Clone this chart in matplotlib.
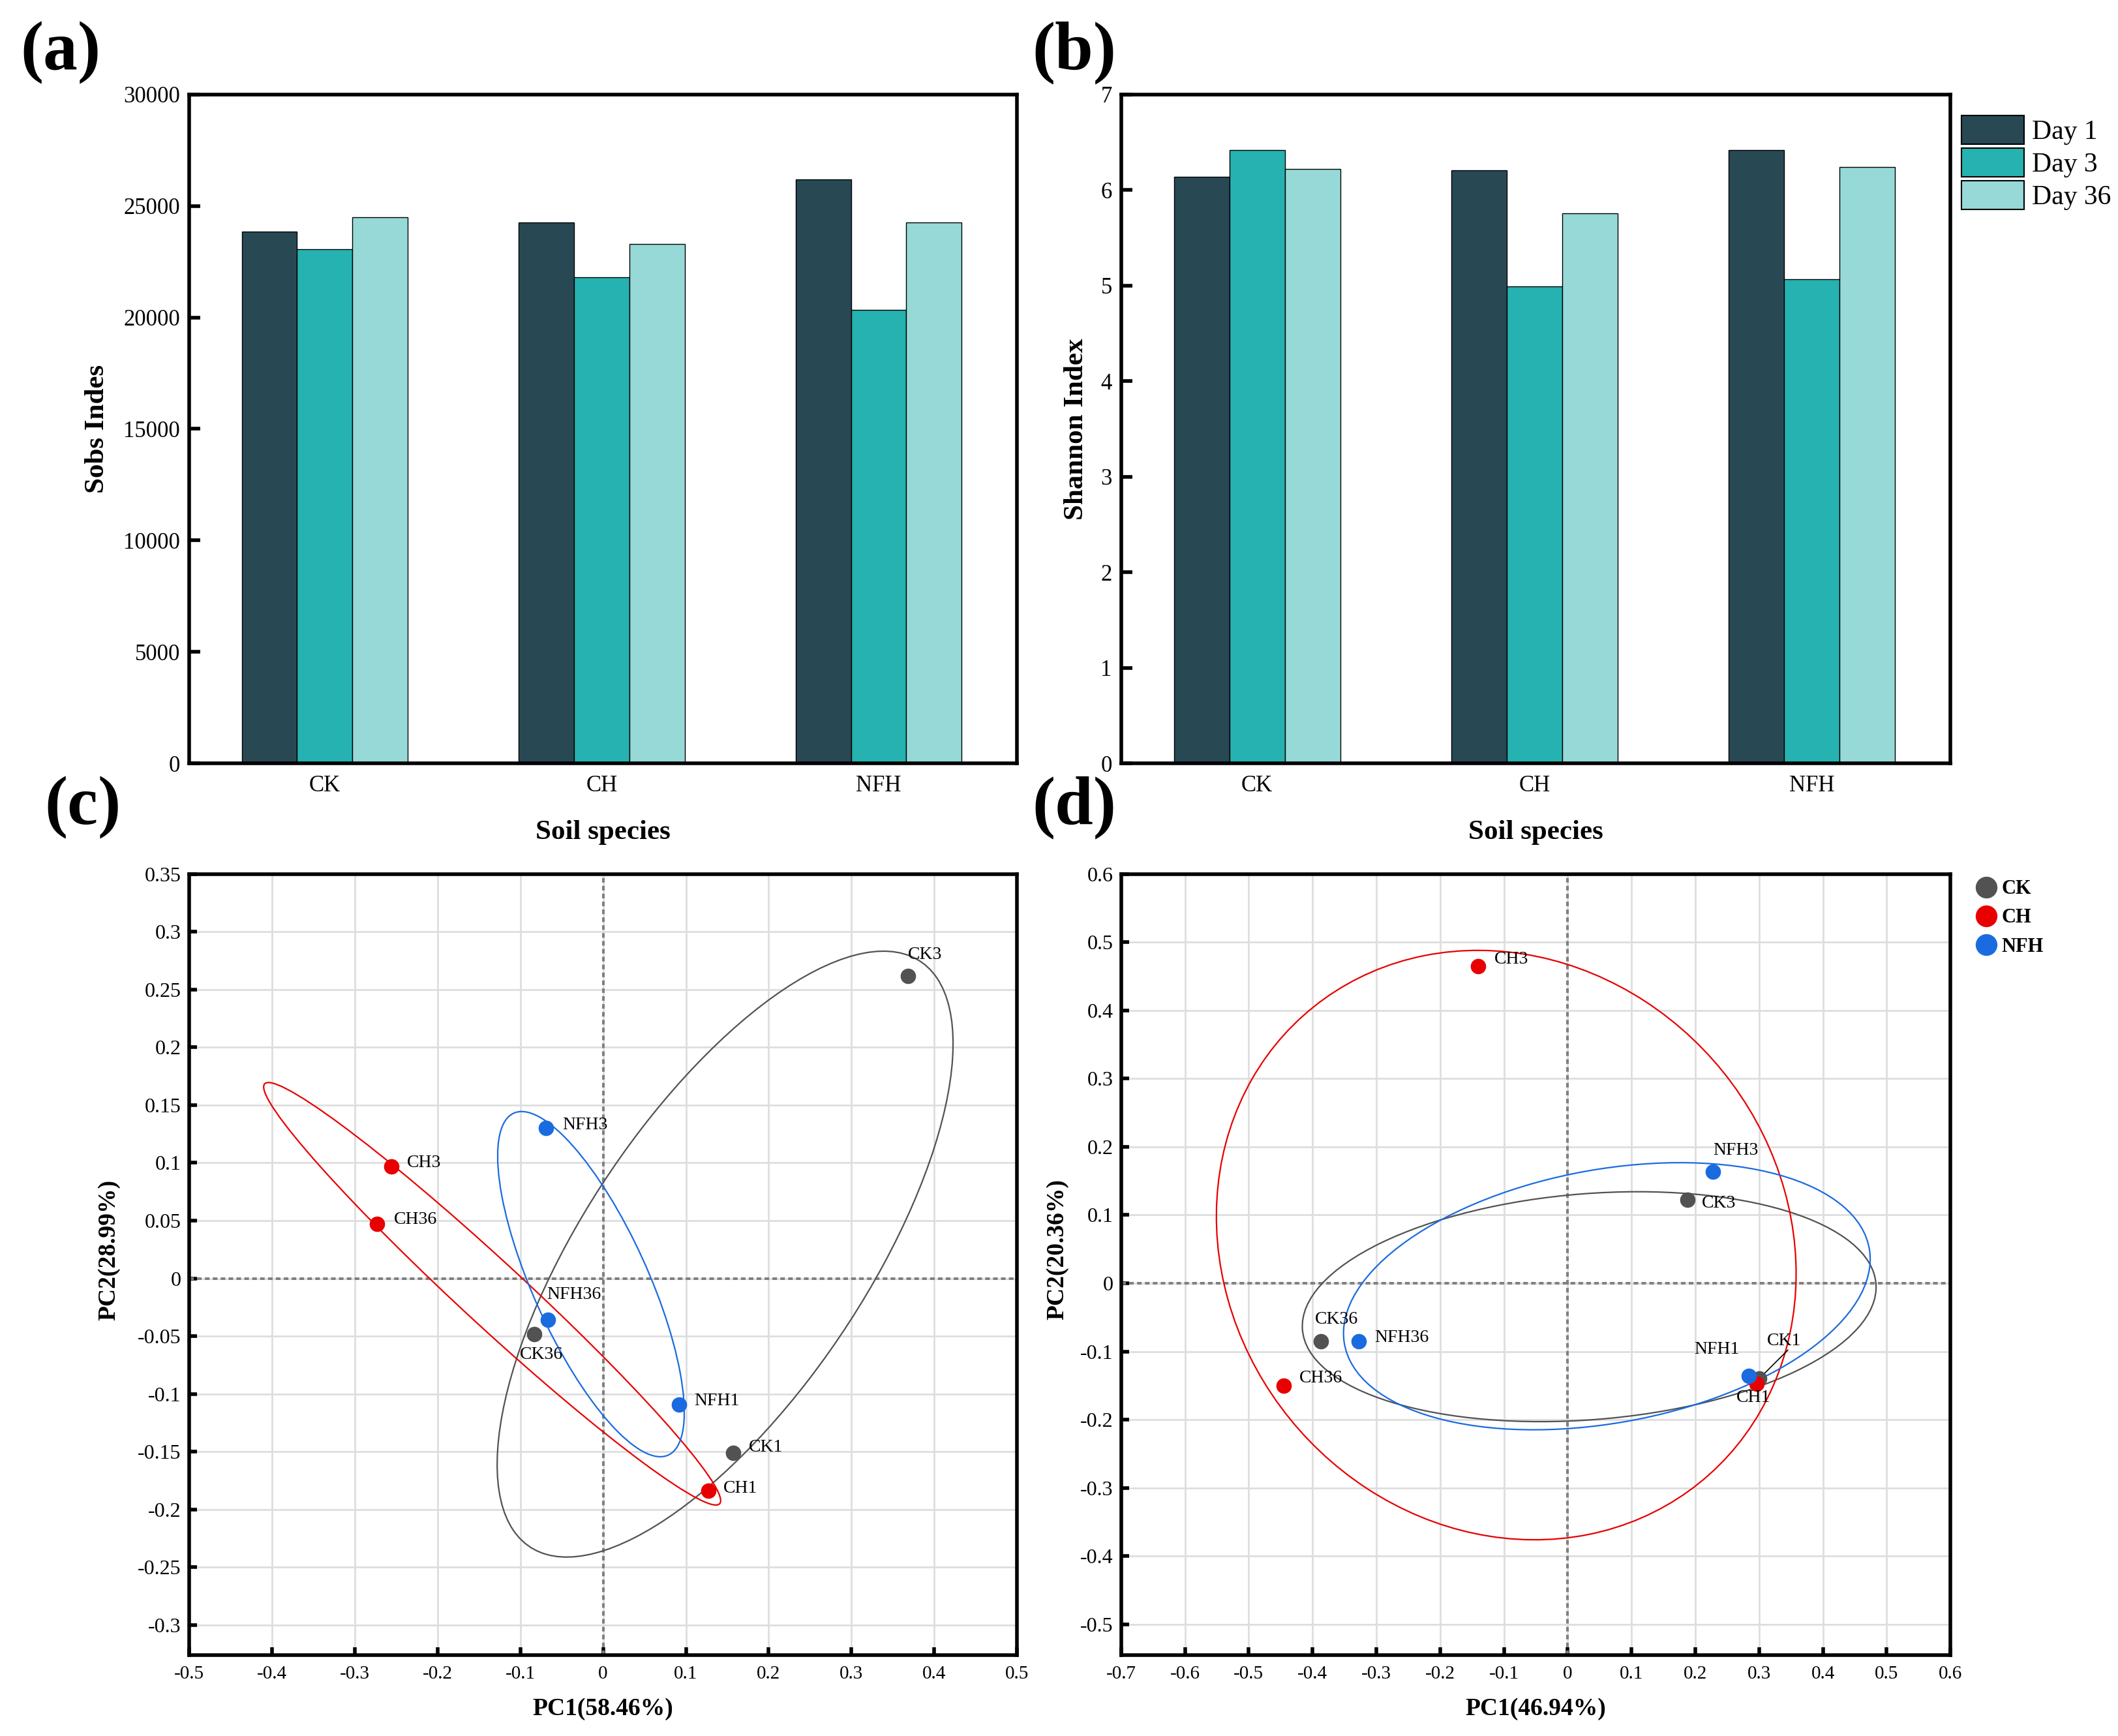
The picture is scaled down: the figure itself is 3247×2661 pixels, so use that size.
import numpy as np
import matplotlib
matplotlib.use("Agg")
import matplotlib.pyplot as plt
from matplotlib.patches import Ellipse, Patch
from matplotlib.lines import Line2D

plt.rcParams['font.family'] = ['Liberation Serif', 'DejaVu Serif']

# ---------------- data ----------------
soils = ["CK", "CH", "NFH"]
days = ["Day 1", "Day 3", "Day 36"]
sobs_day1 = [23850, 24250, 26200]
sobs_day3 = [23050, 21800, 20350]
sobs_day36 = [24500, 23300, 24250]
shannon_day1 = [6.14, 6.21, 6.42]
shannon_day3 = [6.42, 4.99, 5.07]
shannon_day36 = [6.22, 5.76, 6.24]

groups = ["CK", "CH", "NFH"]
sample_suffix = ["1", "3", "36"]
# PCA panel (c)
pc1_c_CK = [0.157, 0.368, -0.083]
pc2_c_CK = [-0.151, 0.262, -0.048]
pc1_c_CH = [0.127, -0.256, -0.273]
pc2_c_CH = [-0.184, 0.097, 0.047]
pc1_c_NFH = [0.092, -0.069, -0.067]
pc2_c_NFH = [-0.109, 0.130, -0.036]
# PCA panel (d)
pc1_d_CK = [0.300, 0.188, -0.387]
pc2_d_CK = [-0.140, 0.122, -0.085]
pc1_d_CH = [0.296, -0.140, -0.445]
pc2_d_CH = [-0.147, 0.465, -0.150]
pc1_d_NFH = [0.284, 0.228, -0.328]
pc2_d_NFH = [-0.136, 0.164, -0.085]

# ---------------- style ----------------
bar_colors = ['#284854', '#26b2b0', '#96d9d7']
grp_colors = {'CK': '#525252', 'CH': '#e80000', 'NFH': '#1a6be0'}
SPINE_LW = 4.0

fig = plt.figure(figsize=(32.47, 26.61), dpi=100)
W, H = 1568.0, 1285.0


def ax_rect(x0, y0, x1, y1):
    return [x0 / W, 1 - y1 / H, (x1 - x0) / W, (y1 - y0) / H]


def style_axes(ax, length, labelsize):
    for s in ax.spines.values():
        s.set_linewidth(SPINE_LW)
    ax.tick_params(direction='in', length=length, width=4, labelsize=labelsize,
                   top=False, right=False)


# ---------------- bar panels ----------------
def bar_panel(rect, vals, ylim, yticks, ylabel, ylab_x, legend=False):
    ax = fig.add_axes(rect)
    x = np.arange(len(soils))
    w = 0.2
    for i, (v, c) in enumerate(zip(vals, bar_colors)):
        ax.bar(x + (i - 1) * w, v, width=w, color=c, edgecolor='black', linewidth=1.0,
               label=days[i], zorder=2)
    ax.set_xlim(-0.49, 2.5)
    ax.set_ylim(*ylim)
    ax.set_yticks(yticks)
    ax.set_xticks(x)
    ax.set_xticklabels(soils)
    style_axes(ax, 12, 25)
    ax.tick_params(axis='x', pad=13)
    ax.tick_params(axis='y', pad=10)
    ax.set_xlabel("Soil species", fontsize=31, fontweight='bold', labelpad=26)
    ax.set_ylabel(ylabel, fontsize=31, fontweight='bold')
    ax.yaxis.set_label_coords(ylab_x, 0.5)
    if legend:
        handles = [Patch(facecolor=c, edgecolor='black', linewidth=1.5) for c in bar_colors]
        ax.legend(handles, days, loc='upper left', bbox_to_anchor=(1.0, 0.985),
                  frameon=False, fontsize=30, handlelength=2.3, handleheight=1.25,
                  labelspacing=0.12, handletextpad=0.3, borderaxespad=0.0)
    return ax


ax_a = bar_panel(ax_rect(140, 70, 753, 565), [sobs_day1, sobs_day3, sobs_day36],
                 (0, 30000), np.arange(0, 30001, 5000), "Sobs Indes", -0.096)
ax_b = bar_panel(ax_rect(830, 70, 1444, 565), [shannon_day1, shannon_day3, shannon_day36],
                 (0, 7), np.arange(0, 8, 1), "Shannon Index", -0.039, legend=True)


# ---------------- PCA panels ----------------
ELL_K = 1.22


def conf_ellipse(ax, xs, ys, color):
    xs = np.asarray(xs); ys = np.asarray(ys)
    cov = np.cov(xs, ys)
    vals, vecs = np.linalg.eigh(cov)
    order = vals.argsort()[::-1]
    vals, vecs = vals[order], vecs[:, order]
    ang = np.degrees(np.arctan2(vecs[1, 0], vecs[0, 0]))
    e = Ellipse((xs.mean(), ys.mean()), 2 * ELL_K * np.sqrt(vals[0]),
                2 * ELL_K * np.sqrt(vals[1]), angle=ang, fill=False,
                edgecolor=color, linewidth=1.6, zorder=3)
    ax.add_patch(e)


def fmt(t):
    return "0" if abs(t) < 1e-9 else f"{t:g}"


def pca_panel(rect, data, xlim, ylim, xticks, yticks, xlabel, ylabel, labels_pos, ylab_x,
              legend=False, leaders=()):
    ax = fig.add_axes(rect)
    for g in groups:
        xs, ys = data[g]
        conf_ellipse(ax, xs, ys, grp_colors[g])
    for g in groups:
        xs, ys = data[g]
        ax.scatter(xs, ys, s=290, color=grp_colors[g], zorder=5, linewidths=0, label=g)
        for i, suf in enumerate(sample_suffix):
            name = g + suf
            tx, ty = labels_pos[name]
            ax.text(tx, ty, name, fontsize=20, ha='left', va='center', zorder=6)
    for (x0, y0, x1, y1) in leaders:
        ax.plot([x0, x1], [y0, y1], color='black', lw=1.2, zorder=4)
    ax.axhline(0, color='#808080', lw=2.9, ls=(0, (1.75, 1.25)), zorder=1)
    ax.axvline(0, color='#808080', lw=2.9, ls=(0, (1.75, 1.25)), zorder=1)
    ax.set_xlim(*xlim)
    ax.set_ylim(*ylim)
    ax.set_xticks(xticks)
    ax.set_yticks(yticks)
    ax.set_xticklabels([fmt(t) for t in xticks])
    ax.set_yticklabels([fmt(t) for t in yticks])
    ax.grid(True, color='#dedede', lw=2.0, zorder=0)
    ax.set_axisbelow(True)
    style_axes(ax, 8.5, 23)
    ax.tick_params(axis='x', labelsize=21, pad=12)
    ax.tick_params(axis='y', pad=9)
    ax.set_xlabel(xlabel, fontsize=27, fontweight='bold', labelpad=16)
    ax.set_ylabel(ylabel, fontsize=27, fontweight='bold')
    ax.yaxis.set_label_coords(ylab_x, 0.519)
    if legend:
        handles = [Line2D([0], [0], marker='o', ls='', markersize=24, color=grp_colors[g],
                          markeredgewidth=0) for g in groups]
        ax.legend(handles, groups, loc='upper left', bbox_to_anchor=(1.029, 0.993),
                  frameon=False, prop={'size': 22, 'weight': 'bold'}, borderpad=0.0,
                  handletextpad=0.14, labelspacing=0.5, borderaxespad=0.0, handlelength=1.2)
    return ax


data_c = {'CK': (pc1_c_CK, pc2_c_CK), 'CH': (pc1_c_CH, pc2_c_CH), 'NFH': (pc1_c_NFH, pc2_c_NFH)}
labels_c = {'CK3': (0.368, 0.280), 'NFH3': (-0.049, 0.133), 'CH3': (-0.237, 0.100),
            'CH36': (-0.253, 0.051), 'NFH36': (-0.068, -0.014), 'CK36': (-0.101, -0.066),
            'NFH1': (0.110, -0.106), 'CK1': (0.176, -0.146), 'CH1': (0.145, -0.182)}
pca_panel(ax_rect(140, 647, 753, 1225), data_c, (-0.5, 0.5), (-0.326, 0.35),
          np.round(np.arange(-0.5, 0.51, 0.1), 2), np.round(np.arange(-0.3, 0.351, 0.05), 2),
          "PC1(58.46%)", "PC2(28.99%)", labels_c, -0.083)

data_d = {'CK': (pc1_d_CK, pc2_d_CK), 'CH': (pc1_d_CH, pc2_d_CH), 'NFH': (pc1_d_NFH, pc2_d_NFH)}
labels_d = {'CH3': (-0.115, 0.475), 'NFH3': (0.228, 0.195), 'CK3': (0.210, 0.117),
            'CK36': (-0.396, -0.053), 'NFH36': (-0.303, -0.080), 'CH36': (-0.421, -0.139),
            'NFH1': (0.198, -0.097), 'CK1': (0.312, -0.085), 'CH1': (0.264, -0.168)}
pca_panel(ax_rect(830, 647, 1444, 1225), data_d, (-0.7, 0.6), (-0.545, 0.6),
          np.round(np.arange(-0.7, 0.61, 0.1), 2), np.round(np.arange(-0.5, 0.61, 0.1), 2),
          "PC1(46.94%)", "PC2(20.36%)", labels_d, -0.063, legend=True,
          leaders=[(0.300, -0.140, 0.345, -0.098)])

# panel labels
for lab, (x, y) in {'(a)': (15, 39), '(b)': (764, 39), '(c)': (33, 598), '(d)': (764, 598)}.items():
    fig.text(x / W, 1 - y / H, lab, fontsize=76, fontweight='bold', ha='left', va='center')

fig.savefig("out.png", dpi=100)
